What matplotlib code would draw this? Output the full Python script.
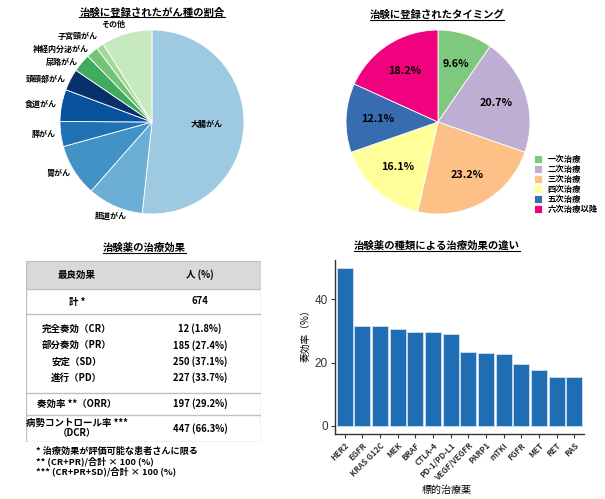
#!/usr/bin/env python3
import numpy as np
import matplotlib
matplotlib.use('Agg')
import matplotlib.pyplot as plt
from matplotlib.lines import Line2D
from matplotlib.patches import Rectangle

plt.rcParams['font.family'] = ['Noto Sans CJK JP', 'DejaVu Sans']
plt.rcParams['font.weight'] = 'bold'

# ---- data ----
cancer_labels = ['大腸がん', '胆道がん', '胃がん', '膵がん', '食道がん', '頭頸部がん',
                 '尿路がん', '神経内分泌がん', '子宮頸がん', 'その他']
cancer_share = [51.7, 9.8, 9.2, 4.4, 5.6, 3.8, 3.2, 2.1, 1.3, 8.9]
cancer_colors = ['#9ecae1', '#6baed6', '#4292c6', '#2171b5', '#08519c', '#08306b',
                 '#41ab5d', '#74c476', '#a1d99b', '#c7e9c0']

line_labels = ['一次治療', '二次治療', '三次治療', '四次治療', '五次治療', '六次治療以降']
line_share = [9.6, 20.7, 23.2, 16.1, 12.1, 18.2]
line_colors = ['#7fc97f', '#beaed4', '#fdc086', '#ffff99', '#386cb0', '#f0027f']

table_header = ['最良効果', '人 (%)']
table_rows = [
    [('計 *', '674')],
    [('完全奏効（CR）', '12 (1.8%)'), ('部分奏効（PR）', '185 (27.4%)'),
     ('安定（SD）', '250 (37.1%)'), ('進行（PD）', '227 (33.7%)')],
    [('奏効率 **（ORR）', '197 (29.2%)')],
    [('病勢コントロール率 ***\n（DCR）', '447 (66.3%)')],
]
table_notes = ['* 治療効果が評価可能な患者さんに限る',
               '** (CR+PR)/合計 × 100 (%)',
               '*** (CR+PR+SD)/合計 × 100 (%)']

drugs = ['HER2', 'EGFR', 'KRAS G12C', 'MEK', 'BRAF', 'CTLA-4', 'PD-1/PD-L1',
         'VEGF/VEGFR', 'PARP1', 'mTKI', 'FGFR', 'MET', 'RET', 'RAS']
orr = [50.0, 31.6, 31.6, 30.5, 29.7, 29.6, 29.1, 23.3, 22.9, 22.8, 19.7, 17.7, 15.4, 15.4]

W, H = 605, 499
fig = plt.figure(figsize=(W / 100, H / 100), dpi=100)


def px_axes(left, top, width, height):
    return fig.add_axes([left / W, 1 - (top + height) / H, width / W, height / H])


titles = []


def title_at(x, y, s):
    t = fig.text(x / W, 1 - y / H, s, ha='center', va='center', fontsize=7.5, fontweight='bold')
    titles.append(t)


# ---- pie 1: cancer types ----
R = 92
ax1 = px_axes(152 - 1.3 * R, 122 - 1.3 * R, 2.6 * R, 2.6 * R)
ax1.pie(cancer_share, colors=cancer_colors, startangle=90, counterclock=False,
        wedgeprops=dict(edgecolor='white', linewidth=0.6))
ax1.set_xlim(-1.3, 1.3)
ax1.set_ylim(-1.3, 1.3)
ax1.set_aspect('equal')
ax1.axis('off')
cum = np.cumsum([0] + cancer_share[:-1])
labpos = []
for i, v in enumerate(cancer_share):
    th = np.deg2rad((cum[i] + v / 2) / sum(cancer_share) * 360)
    labpos.append([np.sin(th), np.cos(th)])
# push the crowded labels on the upper left apart (min gap ~13 px)
gap = 13 / R
upper_left = [i for i in range(1, len(cancer_share))
              if labpos[i][0] < 0 and labpos[i][1] > 0.3]
upper_left.sort(key=lambda i: labpos[i][1])
prev = None
for i in upper_left:
    y = labpos[i][1]
    if prev is not None and y < prev + gap:
        y = prev + gap
    labpos[i].append(y)
    prev = y
for i, lab in enumerate(cancer_labels):
    dx, dy = labpos[i][0], labpos[i][1]
    if i == 0:
        ax1.text(0.6 * dx, 0.6 * dy, lab, ha='center', va='center', fontsize=5.8)
    elif dy < -0.85:
        ax1.text(1.12 * dx, 1.12 * dy, lab, ha='center', va='center', fontsize=5.8)
    else:
        yy = labpos[i][2] if len(labpos[i]) > 2 else 1.05 * dy
        ax1.text(1.05 * dx, yy, lab, ha='right' if dx < 0 else 'left',
                 va='center', fontsize=5.8)
title_at(152, 12.5, '治験に登録されたがん種の割合')

# ---- pie 2: treatment line ----
ax2 = px_axes(438 - 1.3 * R, 122 - 1.3 * R, 2.6 * R, 2.6 * R)
wedges, _, _ = ax2.pie(line_share, colors=line_colors, startangle=90, counterclock=False,
                       autopct='%.1f%%', pctdistance=0.66,
                       textprops=dict(fontsize=7.8, fontweight='bold'),
                       wedgeprops=dict(edgecolor='white', linewidth=0.6))
ax2.set_xlim(-1.3, 1.3)
ax2.set_ylim(-1.3, 1.3)
ax2.set_aspect('equal')
ax2.axis('off')
fig.legend(wedges, line_labels, loc='upper left', bbox_to_anchor=(534 / W, 1 - 155 / H),
           frameon=False, fontsize=6, handlelength=1.0, handleheight=1.0,
           labelspacing=0.12, handletextpad=0.6, borderaxespad=0, borderpad=0)
title_at(437, 15, '治験に登録されたタイミング')

# ---- table ----
tl, tt, tw, th_ = 26, 260.7, 234.5, 181
axt = px_axes(tl, tt, tw, th_)
axt.set_xlim(0, tw)
axt.set_ylim(th_, 0)
axt.axis('off')
row_bounds = [0, 28.3, 53.3, 132, 154.3, 181]
grey = '#bfbfbf'
axt.add_patch(Rectangle((0, 0), tw, row_bounds[1], facecolor='#d9d9d9', edgecolor='none'))
axt.add_patch(Rectangle((0, 0), tw, th_, facecolor='none', edgecolor=grey, linewidth=1))
for yb in row_bounds[1:-1]:
    axt.plot([0, tw], [yb, yb], color=grey, linewidth=1)
c1, c2 = 50.7, 174
fs = 6.8
axt.text(c1, 14.3, table_header[0], ha='center', va='center', fontsize=fs)
axt.text(c2, 14.3, table_header[1], ha='center', va='center', fontsize=fs)
for gi, group in enumerate(table_rows):
    y0, y1 = row_bounds[gi + 1], row_bounds[gi + 2]
    n = len(group)
    step = 16.3
    mid = (y0 + y1) / 2
    for k, (a, b) in enumerate(group):
        yy = mid + (k - (n - 1) / 2) * step
        axt.text(c1, yy, a, ha='center', va='center', fontsize=fs, linespacing=1.05)
        axt.text(c2, yy, b, ha='center', va='center', fontsize=fs)
for k, note in enumerate(table_notes):
    fig.text(36 / W, 1 - (451 + 10 * k) / H, note, ha='left', va='center', fontsize=6.6)
title_at(144, 248, '治験薬の治療効果')

# ---- bar chart ----
axb = px_axes(335, 260, 249, 174)
x = np.arange(len(drugs))
axb.bar(x, orr, width=0.92, color='#1f6db3', edgecolor='#c6dbef', linewidth=0.7)
axb.set_xlim(-0.55, len(drugs) - 0.45)
axb.set_ylim(-2.6, 52.5)
axb.set_yticks([0, 20, 40])
axb.set_xticks(x)
axb.set_xticklabels(drugs, rotation=45, ha='right', rotation_mode='anchor', fontsize=5.8)
for lab in axb.get_yticklabels():
    lab.set_family(['Liberation Sans', 'DejaVu Sans'])
    lab.set_fontweight('normal')
    lab.set_fontsize(8.5)
    lab.set_color('#4d4d4d')
for side in ['top', 'right']:
    axb.spines[side].set_visible(False)
for side in ['left', 'bottom']:
    axb.spines[side].set_color('#333333')
    axb.spines[side].set_linewidth(1.0)
axb.tick_params(colors='#333333', length=3, width=0.8, pad=2)
axb.set_ylabel('奏効率（%）', fontsize=7)
axb.yaxis.set_label_coords(-0.1, 0.58)
axb.set_xlabel('標的治療薬', fontsize=7.2)
axb.xaxis.set_label_coords(0.45, -0.29)
title_at(437, 246, '治験薬の種類による治療効果の違い')

# underline titles
fig.canvas.draw()
rend = fig.canvas.get_renderer()
for t in titles:
    bb = t.get_window_extent(rend)
    yline = bb.y0 + 0.5
    fig.add_artist(Line2D([bb.x0 / W, bb.x1 / W], [yline / H, yline / H],
                          color='black', linewidth=0.8, transform=fig.transFigure))

fig.savefig('out.png', dpi=100)
